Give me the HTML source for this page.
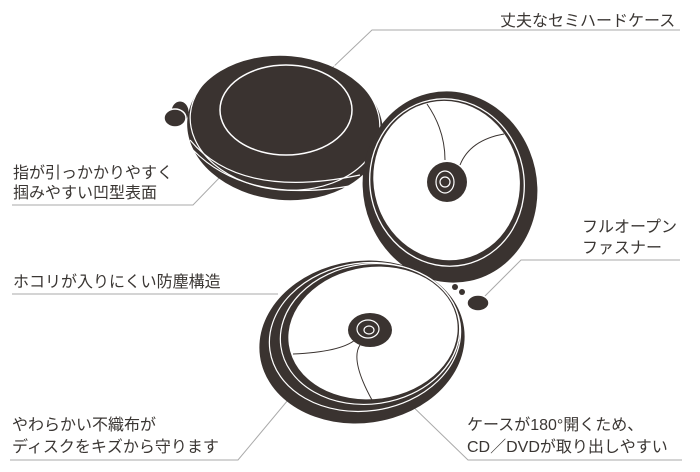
<!DOCTYPE html>
<html><head><meta charset="utf-8"><style>
html,body{margin:0;padding:0;background:#fff;}
svg{display:block}
text{font-family:"Liberation Sans","Noto Sans CJK JP",sans-serif;font-size:16px;fill:#3a3633;}
</style></head><body>
<svg width="700" height="472" viewBox="0 0 700 472" xmlns="http://www.w3.org/2000/svg">
<g fill="none" stroke="#aaa" stroke-width="1">
<polyline points="680,30 372,30 330,70"/>
<polyline points="12,205 193,205 253,143"/>
<polyline points="12,294 278,294"/>
<polyline points="680,260 521,260 478,303"/>
<polyline points="10,460 238,460 313,370"/>
<polyline points="403,397 468,460 682,460"/>
</g>
<!-- top case -->
<g>
<ellipse cx="180" cy="112" rx="9" ry="11" fill="#3a3330" stroke="#fff" stroke-width="1"/>
<ellipse cx="175" cy="118" rx="11" ry="9" fill="#3a3330" stroke="#fff" stroke-width="1.5"/>
<ellipse cx="285" cy="128" rx="98" ry="72" fill="#3a3330" transform="rotate(5 285 128)"/>
<ellipse cx="285" cy="122" rx="95" ry="68" fill="none" stroke="#fff" stroke-width="1.2" transform="rotate(5 285 122)"/>
<path d="M190,140 Q240,200 360,175" fill="none" stroke="#fff" stroke-width="1.2"/>
<path d="M193,150 Q250,208 365,183" fill="none" stroke="#fff" stroke-width="1.2"/>
<ellipse cx="286" cy="110" rx="66" ry="45" fill="none" stroke="#fff" stroke-width="1.5"/>
</g>
<!-- hinge -->
<path d="M400,255 L430,250 L440,275 L410,285 Z" fill="#3a3330"/>
<!-- right open case -->
<g transform="rotate(-12 450 187)">
<ellipse cx="450" cy="187" rx="87" ry="96" fill="#3a3330"/>
<ellipse cx="448" cy="182" rx="77" ry="84" fill="none" stroke="#fff" stroke-width="1.3"/>
<ellipse cx="448" cy="180" rx="73" ry="80" fill="#fff"/>
</g>
<circle cx="447" cy="182" r="20" fill="#3a3330"/>
<ellipse cx="445" cy="182" rx="9" ry="11" fill="none" stroke="#fff" stroke-width="1.2"/>
<circle cx="445" cy="182" r="5" fill="none" stroke="#fff" stroke-width="1.2"/>
<path d="M427,104 Q445,130 445,160 M504,134 Q470,140 460,165" fill="none" stroke="#3a3330" stroke-width="1"/>
<!-- bottom case -->
<g>
<ellipse cx="362" cy="342" rx="103" ry="81" fill="#3a3330" transform="rotate(-8 362 342)"/>
<ellipse cx="365" cy="337" rx="96" ry="74" fill="none" stroke="#fff" stroke-width="1.2" transform="rotate(-8 365 337)"/>
<ellipse cx="370" cy="334" rx="90" ry="70" fill="none" stroke="#fff" stroke-width="1.2" transform="rotate(-8 370 334)"/>
<ellipse cx="373" cy="333" rx="85" ry="66" fill="#fff" transform="rotate(-8 373 333)"/>
<ellipse cx="370" cy="330" rx="22" ry="17" fill="#3a3330"/>
<ellipse cx="368" cy="329" rx="11" ry="9" fill="none" stroke="#fff" stroke-width="1.2"/>
<ellipse cx="369" cy="330" rx="5" ry="4" fill="none" stroke="#fff" stroke-width="1.2"/>
<path d="M293,354 Q340,352 355,340 M360,345 Q350,360 372,400" fill="none" stroke="#3a3330" stroke-width="1"/>
<ellipse cx="478" cy="303" rx="11" ry="8" fill="#3a3330" stroke="#fff" stroke-width="1.5"/>
<circle cx="462" cy="292" r="3" fill="#3a3330"/>
<circle cx="455" cy="287" r="3" fill="#3a3330"/>
</g>
<text x="500" y="26">丈夫なセミハードケース</text>
<text x="13" y="178">指が引っかかりやすく</text>
<text x="13" y="198">掴みやすい凹型表面</text>
<text x="13" y="287">ホコリが入りにくい防塵構造</text>
<text x="582" y="232">フルオープン</text>
<text x="582" y="253">ファスナー</text>
<text x="12" y="430">やわらかい不織布が</text>
<text x="12" y="452">ディスクをキズから守ります</text>
<text x="467" y="430">ケースが180°開くため、</text>
<text x="467" y="452">CD／DVDが取り出しやすい</text>
</svg>
</body></html>
